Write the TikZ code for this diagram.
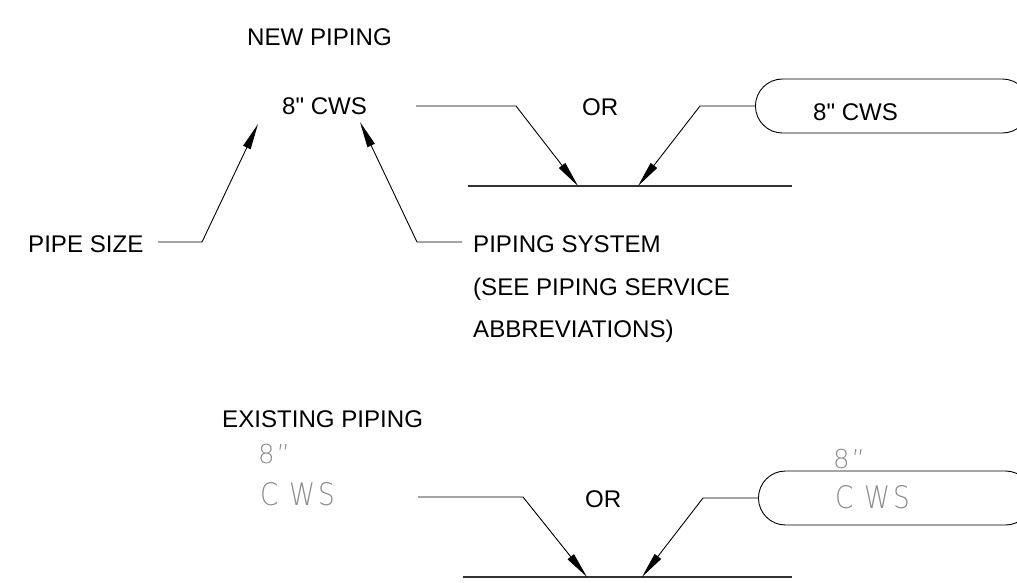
\documentclass[tikz,border=0pt]{standalone}
\usepackage{fontspec}
\setmainfont{Liberation Sans}
\newfontfamily\cadfont{DejaVuSans-ExtraLight.ttf}[FakeStretch=0.85]
\newfontfamily\cadfontwide{DejaVuSans-ExtraLight.ttf}
\usetikzlibrary{arrows.meta,shapes.misc}

% pitch-spaced letters in the thin drafting font
\newcommand{\cadcws}{\makebox[29pt][l]{C}\makebox[29pt][l]{W}S}
\newcommand{\cadsize}{\cadfontwide\fontsize{26}{28}\selectfont 8\hspace{2pt}”}

\begin{document}
\begin{tikzpicture}[x=1pt,y=-1pt,
  lbl/.style={anchor=base west,inner sep=0pt,font=\fontsize{24.1}{28}\selectfont},
  cad/.style={anchor=base west,inner sep=0pt,text=black!45,font=\cadfont\fontsize{31}{36}\selectfont},
  lead/.style={draw=black,line width=0.9pt,line join=miter},
  leadarrow/.style={lead,-{Triangle[length=26pt,width=8pt]}},
  pipe/.style={draw=black!80,line width=1.1pt},
  pill/.style={draw=black,line width=0.9pt,rounded rectangle,minimum height=54pt,inner sep=0pt}]
\clip (0,0) rectangle (1017,582);

% ---------- new piping ----------
\node[lbl] (newhdr) at (247,45) {NEW PIPING};
\node[lbl] (cwsa) at (282,114) {8\textquotedbl{} CWS};
\node[lbl] (ora) at (582,115) {OR};
\node[pill,minimum width=274pt,anchor=west] (pilla) at (755,106) {};
\node[lbl] (cwsb) at (813,120) {8\textquotedbl{} CWS};

\node[lbl] (psize) at (28,252) {PIPE SIZE};
\node[lbl] (psys) at (473,252) {PIPING SYSTEM};
\node[lbl] (psee) at (473,295) {(SEE PIPING SERVICE};
\node[lbl] (pabb) at (473,337) {ABBREVIATIONS)};

\coordinate (pipeaL) at (468,186);
\coordinate (pipeaR) at (792,186);
\draw[pipe] (pipeaL) -- (pipeaR);

\coordinate (laS) at (416,106);
\coordinate (laK) at (516,106);
\coordinate (laT) at (578,186);
\draw[leadarrow] (laS) -- (laK) -- (laT);

\coordinate (lbK) at (700,106);
\coordinate (lbT) at (638,186);
\draw[leadarrow] (pilla.west) -- (lbK) -- (lbT);

\coordinate (lsS) at (158,242);
\coordinate (lsK) at (202,242);
\coordinate (lsT) at (258,124);
\draw[leadarrow] (lsS) -- (lsK) -- (lsT);

\coordinate (lyS) at (462,242);
\coordinate (lyK) at (417,242);
\coordinate (lyT) at (360,122);
\draw[leadarrow] (lyS) -- (lyK) -- (lyT);

% ---------- existing piping ----------
\node[lbl] (exhdr) at (222,427) {EXISTING PIPING};
\node[cad] (sizec) at (258,463) {\cadsize};
\node[cad] (sysc) at (260,505) {\cadcws};
\node[lbl] (orb) at (585,507) {OR};
\node[pill,minimum width=274pt,anchor=west] (pillb) at (758,498) {};
\node[cad] (sized) at (833,468) {\cadsize};
\node[cad] (sysd) at (835,508) {\cadcws};

\coordinate (pipebL) at (463,577);
\coordinate (pipebR) at (792,577);
\draw[pipe] (pipebL) -- (pipebR);

\coordinate (lcS) at (418,497);
\coordinate (lcK) at (523,497);
\coordinate (lcT) at (587,577);
\draw[leadarrow] (lcS) -- (lcK) -- (lcT);

\coordinate (ldK) at (703,498);
\coordinate (ldT) at (642,577);
\draw[leadarrow] (pillb.west) -- (ldK) -- (ldT);
\end{tikzpicture}
\end{document}
